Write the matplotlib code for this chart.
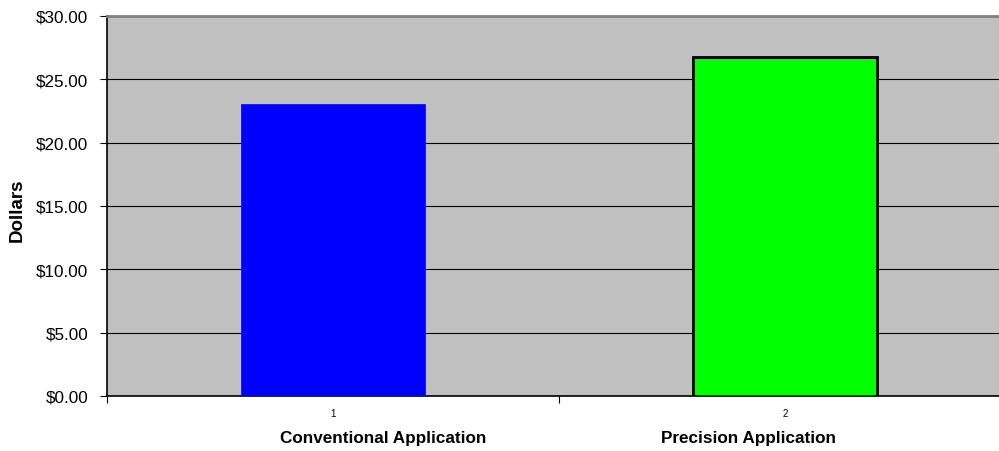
import matplotlib
matplotlib.use("Agg")
import matplotlib.pyplot as plt
from matplotlib.ticker import FuncFormatter, MultipleLocator

plt.rcParams['font.family'] = ['Liberation Sans', 'DejaVu Sans']

# Cost per acre for each application method
categories = ["Conventional Application", "Precision Application"]
tick_labels = ["1", "2"]
values = [23.05, 26.74]
colors = ["#0000FF", "#00FF00"]
edge_colors = ["#0000FF", "#000000"]

W, H = 999, 452
fig = plt.figure(figsize=(W / 100, H / 100), dpi=100)
left, right, top, bottom = 107, 1011, 17, 397
ax = fig.add_axes([left / W, 1 - bottom / H, (right - left) / W, (bottom - top) / H])
ax.set_facecolor("#C0C0C0")

positions = [1, 2]
for x, v, c, ec in zip(positions, values, colors, edge_colors):
    lw = 2.0 if ec == "#000000" else 0.5
    ax.bar(x, v, width=0.405, color=c, edgecolor=ec, linewidth=lw, zorder=3)

ax.set_xlim(0.5, 2.5)
ax.set_ylim(0, 30)
ax.yaxis.set_major_locator(MultipleLocator(5))
ax.yaxis.set_major_formatter(FuncFormatter(lambda v, _: f"${v:,.2f}"))
ax.grid(axis="y", color="#000000", linewidth=0.8, zorder=1)
ax.set_axisbelow(True)

# Category boundaries as major ticks, numbered labels at the centres
ax.set_xticks([0.5, 1.5, 2.5])
ax.set_xticklabels([])
ax.set_xticks(positions, minor=True)
ax.set_xticklabels(tick_labels, minor=True, fontsize=7)
ax.tick_params(axis="x", which="major", length=5, width=0.8, color="#000000", direction="out")
ax.tick_params(axis="x", which="minor", length=0, pad=9)
ax.tick_params(axis="y", length=5, width=0.8, labelsize=12.3, pad=8.5)

for s in ["left", "bottom"]:
    ax.spines[s].set_color("#000000")
    ax.spines[s].set_linewidth(1.2)
ax.spines["top"].set_color("#808080")
ax.spines["top"].set_linewidth(2)
ax.spines["right"].set_visible(False)

ax.set_ylabel("Dollars", fontsize=13.5, fontweight="bold")
ax.yaxis.set_label_coords(17 / (right - left) - left / (right - left), (bottom - 210) / (bottom - top))
ax.yaxis.label.set_verticalalignment("center")

name_x = [1.111, 1.920]
for nx, name in zip(name_x, categories):
    ax.text(nx, -0.108, name, transform=ax.get_xaxis_transform(), ha="center", va="center",
            fontsize=12.3, fontweight="bold")

fig.savefig("out.png", dpi=100)
